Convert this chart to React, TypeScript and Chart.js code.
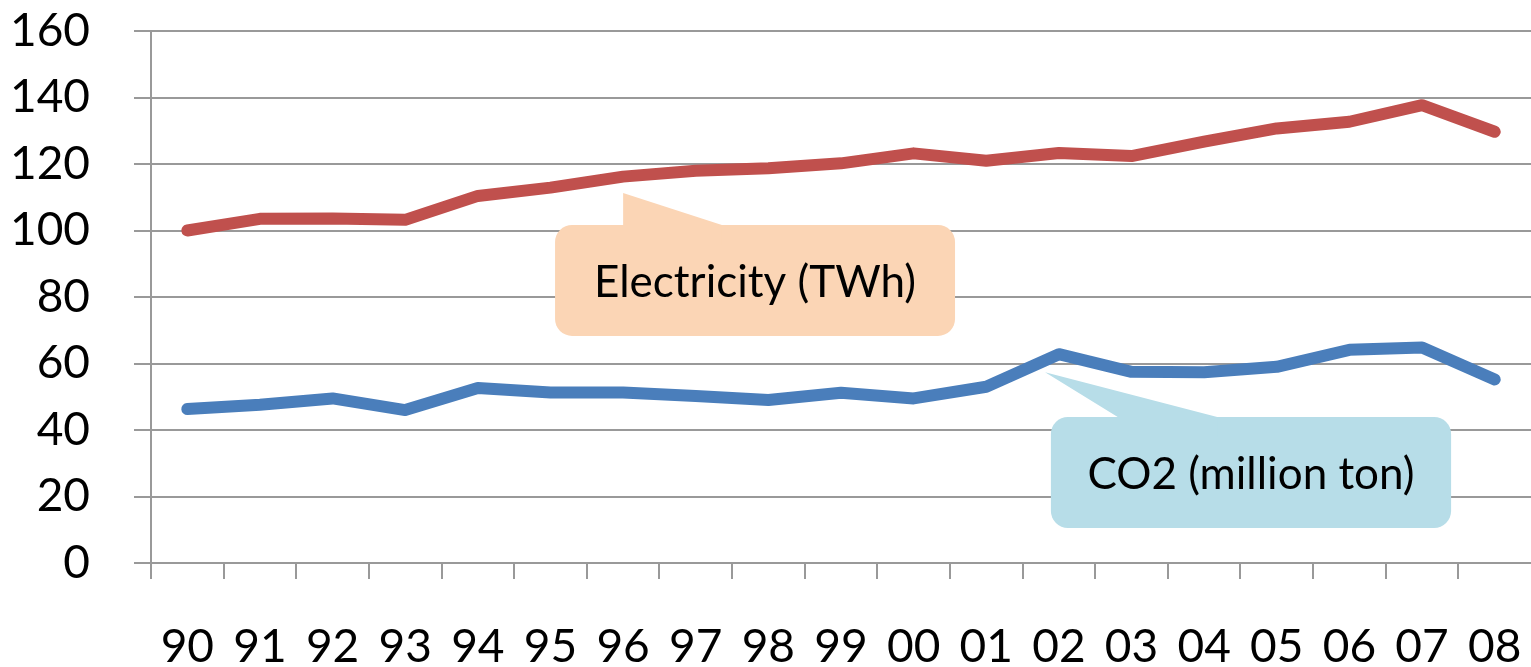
import React, { useEffect, useRef } from "react";
import { Chart, registerables } from "chart.js";

Chart.register(...registerables);

const years = ["90", "91", "92", "93", "94", "95", "96", "97", "98", "99", "00", "01", "02", "03", "04", "05", "06", "07", "08"];
const electricity = [100, 103.5, 103.6, 103.2, 110.4, 112.9, 116.2, 118.0, 118.7, 120.2, 123.2, 121.0, 123.3, 122.4, 126.7, 130.7, 132.7, 137.7, 129.7];
const co2 = [46.3, 47.6, 49.5, 46.0, 52.6, 51.3, 51.3, 50.2, 49.0, 51.2, 49.5, 53.0, 62.8, 57.5, 57.4, 59.0, 64.1, 64.8, 55.2];
const yTicks = [0, 20, 40, 60, 80, 100, 120, 140, 160];

const callouts = [
  { text: "Electricity (TWh)", fill: "#FBD5B5", x0: 5.063, x1: 10.57, yTop: 101.65, yBottom: 68.3, tipX: 6.0, tipY: 111.3, baseX0: 6.0, baseX1: 7.36 },
  { text: "CO2 (million ton)", fill: "#B7DDE8", x0: 11.89, x1: 17.4, yTop: 43.9, yBottom: 10.5, tipX: 11.81, tipY: 57.4, baseX0: 12.81, baseX1: 14.18 },
];

const FONT = "Lato, 'Noto Sans', sans-serif";
const GRID = "#999999";

const calloutPlugin = {
  id: "callouts",
  beforeDatasetsDraw(chart: any) {
    const { ctx, scales } = chart;
    const xs = scales.x;
    const ys = scales.y;
    ctx.save();
    for (const c of callouts) {
      const left = xs.getPixelForValue(c.x0);
      const right = xs.getPixelForValue(c.x1);
      const top = ys.getPixelForValue(c.yTop);
      const bottom = ys.getPixelForValue(c.yBottom);
      const tx = xs.getPixelForValue(c.tipX);
      const ty = ys.getPixelForValue(c.tipY);
      const b0 = xs.getPixelForValue(c.baseX0);
      const b1 = xs.getPixelForValue(c.baseX1);
      ctx.fillStyle = c.fill;
      ctx.beginPath();
      ctx.roundRect(left, top, right - left, bottom - top, 17);
      ctx.fill();
      ctx.beginPath();
      ctx.moveTo(tx, ty);
      ctx.lineTo(b1, top);
      ctx.lineTo(b1, top + 20);
      ctx.lineTo(b0, top + 20);
      ctx.lineTo(b0, top);
      ctx.closePath();
      ctx.fill();
      ctx.fillStyle = "#000";
      ctx.font = `44px ${FONT}`;
      ctx.textAlign = "center";
      ctx.textBaseline = "middle";
      ctx.fillText(c.text, (left + right) / 2, (top + bottom) / 2 + 2);
    }
    ctx.restore();
  },
};

export default function App() {
  const ref = useRef<HTMLCanvasElement>(null);
  useEffect(() => {
    document.body.style.margin = "0";
    const chart = new Chart(ref.current as HTMLCanvasElement, {
      type: "line",
      data: {
        labels: years,
        datasets: [
          { label: "Electricity (TWh)", data: electricity, borderColor: "#C0504D", backgroundColor: "#C0504D", borderWidth: 12, pointRadius: 0, borderCapStyle: "round", borderJoinStyle: "round", tension: 0 },
          { label: "CO2 (million ton)", data: co2, borderColor: "#4A7EBB", backgroundColor: "#4A7EBB", borderWidth: 12, pointRadius: 0, borderCapStyle: "round", borderJoinStyle: "round", tension: 0 },
        ],
      },
      options: {
        animation: false,
        responsive: false,
        devicePixelRatio: 1,
        layout: { padding: { top: 31, right: 0, bottom: 0, left: 0 } },
        plugins: { legend: { display: false }, tooltip: { enabled: false } },
        scales: {
          x: {
            type: "category",
            offset: true,
            grid: {
              offset: true,
              drawOnChartArea: false,
              drawTicks: true,
              tickLength: 16,
              color: (c: any) => (c.type === "tick" ? GRID : "rgba(0,0,0,0)"),
              lineWidth: 2,
            },
            border: { display: true, color: GRID, width: 2 },
            ticks: { color: "#000", font: { family: FONT, size: 46 }, padding: 41, autoSkip: false, maxRotation: 0, minRotation: 0 },
            afterFit: (s: any) => { s.height = 104; s.paddingLeft = 0; s.paddingRight = 0; },
          },
          y: {
            min: 0,
            max: 160,
            afterBuildTicks: (s: any) => { s.ticks = yTicks.map((v) => ({ value: v })); },
            grid: { color: GRID, lineWidth: 2, tickLength: 17, drawTicks: true },
            border: { display: true, color: GRID, width: 2 },
            ticks: { color: "#000", font: { family: FONT, size: 46 }, padding: 44, stepSize: 20 },
            afterFit: (s: any) => { s.width = 151; s.paddingTop = 0; s.paddingBottom = 0; },
          },
        },
      },
      plugins: [calloutPlugin],
    } as any);
    return () => chart.destroy();
  }, []);
  return (
    <div style={{ position: "fixed", left: 0, top: 0, width: 1531, height: 667, background: "#fff", overflow: "hidden" }}>
      <canvas ref={ref} width={1531} height={667} />
    </div>
  );
}
